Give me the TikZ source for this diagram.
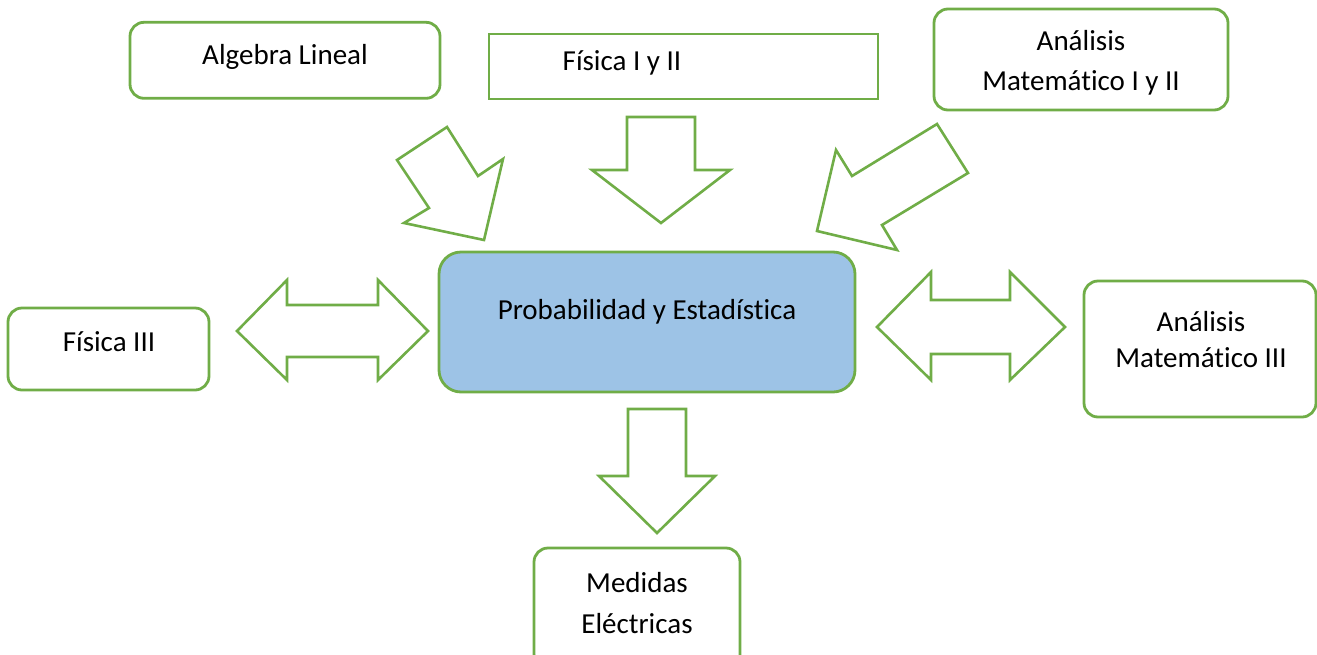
\documentclass[tikz,border=0pt]{standalone}
\usepackage{fontspec}
\setmainfont[Ligatures={NoCommon}]{Carlito}
\definecolor{grn}{HTML}{70AD47}
\definecolor{lblue}{HTML}{9DC3E6}
\begin{document}
\begin{tikzpicture}[x=1pt,y=-1pt,
  box/.style={draw=grn,line width=2.8pt,rounded corners=14pt,fill=white,inner sep=0pt},
  sqbox/.style={draw=grn,line width=2.8pt,fill=white,inner sep=0pt},
  txt/.style={font=\fontsize{29}{40}\selectfont,align=center,inner sep=0pt,text=black},
  blk/.style={draw=grn,line width=2.6pt,fill=white,line join=miter}]
\useasboundingbox (0,0) rectangle (1317,654);
\clip (0,0) rectangle (1317,654);
% boxes
\node[box,minimum width=310pt,minimum height=76pt] (alg) at (285,60.3) {};
\node[txt] (algt) at (285,57) {Algebra Lineal};
\node[sqbox,minimum width=389pt,minimum height=65pt] (fis) at (683.5,66.5) {};
\node[txt] (fist) at (622,63) {Física I y II};
\node[box,minimum width=294pt,minimum height=101pt] (am) at (1081,59.5) {};
\node[txt] (amt) at (1081,63) {Análisis\\Matemático I y II};
\node[box,fill=lblue,rounded corners=22pt,minimum width=416pt,minimum height=140pt] (pe) at (647,322) {};
\node[txt] (pet) at (647,312) {Probabilidad y Estadística};
\node[box,minimum width=201pt,minimum height=82pt] (f3) at (108.5,349) {};
\node[txt] (f3t) at (109,342) {Física III};
\node[box,minimum width=232pt,minimum height=136pt] (am3) at (1200,349) {};
\node[txt,font=\fontsize{29}{36}\selectfont] (am3t) at (1201,340) {Análisis\\Matemático III};
\node[box,minimum width=206pt,minimum height=120pt] (me) at (637,608) {};
\node[txt,font=\fontsize{29}{41}\selectfont] (met) at (637,603.5) {Medidas\\Eléctricas};
% block arrows
\draw[blk] (447,127) -- (478,176) -- (503,159) -- (484,240) -- (404,223) -- (429,208) -- (397,160) -- cycle;
\draw[blk] (627,117) -- (695,117) -- (695,170) -- (730,170) -- (661,223) -- (592,170) -- (627,170) -- cycle;
\draw[blk] (937,124) -- (968,173) -- (882,225) -- (897,250) -- (817,231) -- (836,150) -- (852,176) -- cycle;
\draw[blk] (237,331) -- (287,280) -- (287,305) -- (378,305) -- (378,280) -- (428,331) -- (378,380) -- (378,357) -- (287,357) -- (287,380) -- cycle;
\draw[blk] (877,327) -- (931,272) -- (931,300) -- (1010,300) -- (1010,272) -- (1065,327) -- (1010,380) -- (1010,354) -- (931,354) -- (931,380) -- cycle;
\draw[blk] (628,409) -- (686,409) -- (686,476) -- (715,476) -- (657,533) -- (599,476) -- (628,476) -- cycle;
\end{tikzpicture}
\end{document}
